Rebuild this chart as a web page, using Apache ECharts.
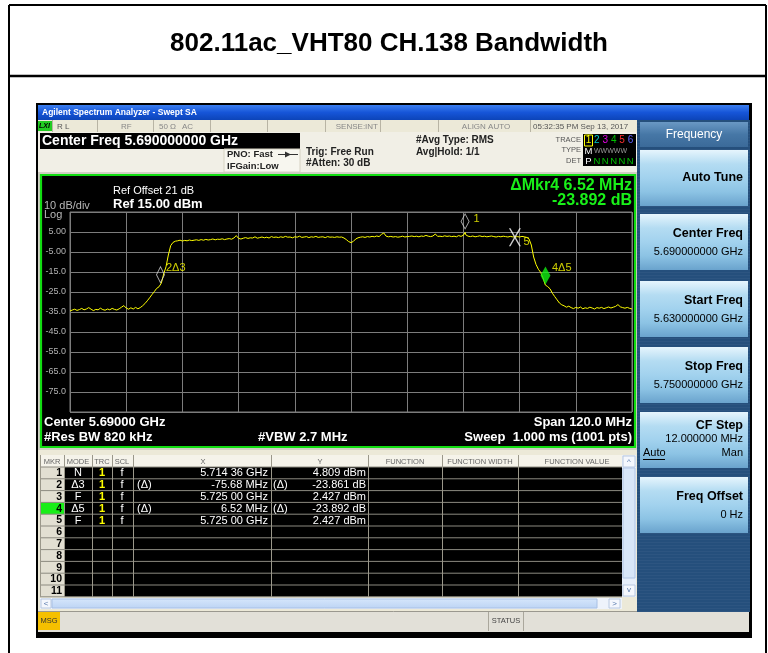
<!DOCTYPE html>
<html><head><meta charset="utf-8">
<script src="https://cdn.jsdelivr.net/npm/echarts@6/dist/echarts.min.js"></script>
<style>html,body{margin:0;padding:0;background:#fff}#c{width:768px;height:653px}</style>
</head><body><div id="c"></div>
<script>
// ---------------- data ----------------
const chartTitle = '802.11ac_VHT80 CH.138 Bandwidth';
const startFreqGHz = 5.63;          // x axis: offset in MHz from start
const spanMHz = 120, freqDivMHz = 12;
const yMin = -85, yMax = 15, yDiv = 10;
const yTickValues = [5, -5, -15, -25, -35, -45, -55, -65, -75];
const yTickLabels = ['5.00', '-5.00', '-15.0', '-25.0', '-35.0', '-45.0', '-55.0', '-65.0', '-75.0'];
const displayLineDbm = -21.19;
const displayLineLabel = '-21.19 dBm';
// trace: [offset MHz from 5.630 GHz, level dBm]
const trace = [
[0,-34.5],[0.5,-34.0],[1,-33.6],[1.5,-34.2],[2,-33.8],[2.5,-33.2],[3,-33.9],[3.5,-33.5],[4,-32.8],[4.5,-33.6],
[5,-34.3],[5.5,-33.7],[6,-33.9],[6.5,-33.1],[7,-33.8],[7.5,-34.1],[8,-33.5],[8.5,-33.9],[9,-33.2],[9.5,-33.7],
[10,-34.0],[10.5,-33.4],[11,-32.6],[11.5,-31.8],[12,-33.0],[12.5,-33.6],[13,-32.9],[13.5,-33.5],[14,-32.7],[14.5,-33.4],
[15,-32.8],[15.5,-31.9],[16,-30.8],[16.5,-29.4],[17,-27.9],[17.5,-26.3],[18,-24.8],[18.5,-23.2],[19,-22.4],[19.5,-20.6],
[20,-16.0],[20.5,-12.4],[21,-6.5],[21.5,-1.8],[22,-0.2],[22.5,0.4],[23,0.6],[23.5,0.9],[24,0.5],[24.5,0.8],
[25,0.6],[25.5,1.0],[26,0.7],[26.5,0.9],[27,1.1],[27.5,0.8],[28,1.2],[28.5,0.9],[29,1.3],[29.5,1.0],
[30,1.2],[30.5,1.5],[31,1.1],[31.5,1.4],[32,1.3],[32.5,1.6],[33,1.2],[33.5,1.5],[34,1.7],[34.5,1.4],
[35,2.0],[35.5,3.2],[36,1.8],[36.5,1.5],[37,1.9],[37.5,2.2],[38,1.8],[38.5,2.1],[39,2.0],[39.5,2.6],
[40,1.9],[40.5,2.2],[41,2.5],[41.5,2.1],[42,2.4],[42.5,2.0],[43,2.7],[43.5,2.3],[44,2.5],[44.5,2.2],
[45,2.6],[45.5,2.3],[46,2.8],[46.5,2.4],[47,2.5],[47.5,2.1],[48,2.6],[48.5,2.4],[49,2.9],[49.5,2.3],
[50,2.5],[50.5,2.7],[51,2.2],[51.5,2.6],[52,2.4],[52.5,2.8],[53,2.3],[53.5,2.5],[54,2.6],[54.5,2.2],
[55,2.7],[55.5,2.4],[56,2.5],[56.5,2.3],[57,2.6],[57.5,2.4],[58,2.5],[58.5,2.0],[59,1.2],[59.5,0.2],
[60,-0.3],[60.5,0.3],[61,1.5],[61.5,2.1],[62,2.4],[62.5,2.6],[63,2.3],[63.5,2.7],[64,2.5],[64.5,2.8],
[65,2.6],[65.5,3.0],[66,2.7],[66.5,3.8],[67,4.5],[67.5,2.9],[68,2.6],[68.5,2.8],[69,2.5],[69.5,2.7],
[70,2.4],[70.5,2.6],[71,2.9],[71.5,2.5],[72,2.7],[72.5,2.8],[73,3.0],[73.5,2.7],[74,2.9],[74.5,2.6],
[75,3.0],[75.5,2.8],[76,3.3],[76.5,2.9],[77,2.7],[77.5,3.0],[78,4.0],[78.5,2.8],[79,2.9],[79.5,2.7],
[80,3.1],[80.5,2.8],[81,3.0],[81.5,2.7],[82,2.9],[82.5,2.6],[83,3.2],[83.5,2.8],[84,3.4],[84.36,4.809],[84.5,3.6],
[85,2.9],[85.5,2.7],[86,3.0],[86.5,2.6],[87,2.8],[87.5,3.1],[88,2.7],[88.5,2.9],[89,2.6],[89.5,2.8],
[90,3.0],[90.5,2.7],[91,2.5],[91.5,2.8],[92,2.6],[92.5,2.9],[93,2.7],[93.5,2.5],[94,2.8],[94.5,2.6],
[95,2.427],[95.5,2.7],[96,2.5],[96.5,2.8],[97,2.6],[97.5,2.3],[98,1.6],[98.5,-1.5],[99,-7.5],[99.5,-11.2],
[100,-13.6],[100.5,-15.2],[101,-18.0],[101.5,-21.5],[102,-22.3],[102.5,-23.4],[103,-25.6],[103.5,-27.3],[104,-28.9],[104.5,-30.5],
[105,-31.4],[105.5,-31.9],[106,-32.6],[106.5,-32.1],[107,-32.8],[107.5,-33.3],[108,-32.7],[108.5,-33.1],[109,-32.5],[109.5,-33.4],
[110,-32.9],[110.5,-33.2],[111,-32.6],[111.5,-33.0],[112,-33.5],[112.5,-32.8],[113,-33.1],[113.5,-32.7],[114,-33.3],[114.5,-32.9],
[115,-32.5],[115.5,-33.0],[116,-32.6],[116.5,-32.2],[117,-31.3],[117.5,-32.4],[118,-32.8],[118.5,-33.1],[119,-32.7],[119.5,-33.2],
[120,-33.5]
];
// markers (absolute frequency in GHz, level in dBm)
const markerLabels = ['1', '2\u03943', '3', '4\u03945', '5'];
const markerFreqGHz = [5.71436, 5.64932, 5.72500, 5.73152, 5.72500];
const markerLevelDbm = [4.809, -21.434, 2.427, -21.465, 2.427];
// marker table
const tableMkr = ['1','2','3','4','5','6','7','8','9','10','11'];
const tableMode = ['N','\u03943','F','\u03945','F'];
const tableTrc = ['1','1','1','1','1'];
const tableScl = ['f','f','f','f','f'];
const tableXRef = ['','(\u0394)','','(\u0394)',''];
const tableX = ['5.714 36 GHz','-75.68 MHz','5.725 00 GHz','6.52 MHz','5.725 00 GHz'];
const tableYRef = ['','(\u0394)','','(\u0394)',''];
const tableY = ['4.809 dBm','-23.861 dB','2.427 dBm','-23.892 dB','2.427 dBm'];
const tableHeaders = ['MKR','MODE','TRC','SCL','X','Y','FUNCTION','FUNCTION WIDTH','FUNCTION VALUE'];
// soft keys
const softkeyTitles = ['Auto Tune','Center Freq','Start Freq','Stop Freq','CF Step','Freq Offset'];
const softkeyValues = ['','5.690000000 GHz','5.630000000 GHz','5.750000000 GHz','12.000000 MHz','0 Hz'];

// ---------------- drawing helpers ----------------
const FF = '"Liberation Sans", Arial, Helvetica, sans-serif';
const el = [];
let zc = 1;
function rect(x, y, w, h, fill, stroke, lw) {
  el.push({type:'rect', silent:true, z:zc++, shape:{x:x, y:y, width:w, height:h},
    style:{fill:fill, stroke:stroke || null, lineWidth:lw || 0}});
}
function line(x1, y1, x2, y2, c, w) {
  el.push({type:'line', silent:true, z:zc++, shape:{x1:x1, y1:y1, x2:x2, y2:y2},
    style:{stroke:c, lineWidth:w || 1}});
}
function text(x, y, s, size, color, opt) {
  opt = opt || {};
  const a = opt.align || 'left';
  el.push({type:'text', silent:true, z:zc++, x:x, y:y,
    style:{text:s, fill:color, font:(opt.italic ? 'italic ' : '') + (opt.bold ? 'bold ' : '') + size + 'px ' + FF,
      textAlign:a, align:a, textVerticalAlign:'middle', verticalAlign:'middle'}});
}
function vgrad(stops) {
  return {type:'linear', x:0, y:0, x2:0, y2:1, colorStops:stops.map((c, i) => ({offset:i / (stops.length - 1), color:c}))};
}

// ---------------- page frame + title ----------------
line(9, 5, 766, 5, '#000', 2);
line(9, 5, 9, 653, '#000', 2);
line(766, 5, 766, 653, '#000', 2);
line(9, 76, 766, 76, '#000', 2.5);
text(389, 44, chartTitle, 26, '#000', {bold:true, align:'center'});

// ---------------- analyzer window ----------------
rect(36, 103, 716, 535, '#000');
rect(38, 105, 711, 15, vgrad(['#3c7ff0', '#1655d8', '#0c44b8']));
text(42, 112.5, 'Agilent Spectrum Analyzer - Swept SA', 8.5, '#fff', {bold:true});
// status row
rect(38, 120, 599, 12, '#ece9d8');
[52, 97, 153, 210, 267, 325, 380, 438, 530].forEach(x => line(x + 0.5, 120, x + 0.5, 132, '#b8b4a4', 1));
rect(38, 121, 14, 10, '#22cc22');
text(39, 126.5, 'LXI', 7, '#000', {bold:true, italic:true});
text(57, 126.5, 'R L', 8, '#555');
text(121, 126.5, 'RF', 8, '#888');
text(159, 126.5, '50 \u03a9', 8, '#888');
text(182, 126.5, 'AC', 8, '#888');
text(378, 126.5, 'SENSE:INT', 8, '#888', {align:'right'});
text(486, 126.5, 'ALIGN AUTO', 8, '#888', {align:'center'});
text(533, 126.5, '05:32:35 PM Sep 13, 2017', 8, '#555');
// info area
rect(38, 132, 599, 41, '#f1efe6');
rect(40, 133, 260, 16, '#000');
text(42, 141.5, 'Center Freq 5.690000000 GHz', 14, '#fff', {bold:true});
rect(224, 149, 76, 23, '#f7f6ef', '#d6d2c2', 1);
text(227, 154, 'PNO: Fast', 9.5, '#222', {bold:true});
line(278, 154.5, 298, 154.5, '#333', 1);
el.push({type:'polygon', silent:true, z:zc++, shape:{points:[[285, 151.5], [291, 154.5], [285, 157.5]]}, style:{fill:'#333'}});
text(227, 166, 'IFGain:Low', 9.5, '#222', {bold:true});
text(306, 152, 'Trig: Free Run', 10, '#222', {bold:true});
text(306, 163.5, '#Atten: 30 dB', 10, '#222', {bold:true});
text(416, 140, '#Avg Type: RMS', 10, '#222', {bold:true});
text(416, 152, 'Avg|Hold: 1/1', 10, '#222', {bold:true});
text(581, 139.5, 'TRACE', 7.5, '#555', {align:'right'});
text(581, 150, 'TYPE', 7.5, '#555', {align:'right'});
text(581, 160.5, 'DET', 7.5, '#555', {align:'right'});
rect(583, 134, 53, 32, '#000');
rect(584.5, 135, 8, 11, null, '#ffff00', 1);
const trColors = ['#ffff00', '#00c8c8', '#e000e0', '#00c000', '#ff3030', '#6060ff'];
trColors.forEach((c, i) => text(588.5 + i * 8.4, 140.5, String(i + 1), 10, c, {align:'center'}));
text(588.5, 151, 'M', 9.5, '#fff', {align:'center'});
text(594, 151, 'WWWWW', 7, '#999');
text(588.5, 161, 'P', 9.5, '#fff', {align:'center'});
for (let i = 0; i < 5; i++) text(597 + i * 8.3, 161, 'N', 9.5, '#00c000', {align:'center'});

// graph area
rect(38, 172, 599, 278, '#d0cec4');
rect(41, 175, 594, 272, '#000', '#11dd11', 2.2);
text(113, 191, 'Ref Offset 21 dB', 11, '#fff');
text(113, 204, 'Ref 15.00 dBm', 13, '#fff', {bold:true});
text(44, 206, '10 dB/div', 11, '#b8b8b8');
text(44, 215, 'Log', 11, '#b8b8b8');
text(632, 186, '\u0394Mkr4 6.52 MHz', 16, '#19f019', {bold:true, align:'right'});
text(632, 201, '-23.892 dB', 16, '#19f019', {bold:true, align:'right'});
text(44, 422.5, 'Center 5.69000 GHz', 13, '#fff', {bold:true});
text(44, 437.5, '#Res BW 820 kHz', 13, '#fff', {bold:true});
text(258, 437.5, '#VBW 2.7 MHz', 13, '#fff', {bold:true});
text(632, 422.5, 'Span 120.0 MHz', 13, '#fff', {bold:true, align:'right'});
text(632, 437.5, 'Sweep  1.000 ms (1001 pts)', 13, '#fff', {bold:true, align:'right'});

// ---------------- marker table ----------------
rect(38, 450, 599, 162, '#ece9d8');
rect(40, 455, 582, 12, '#f5f3ea');
const colX = [40, 64, 92, 112, 133, 271, 368, 442, 518, 622];
const hdrCx = [52, 78, 102, 122, 203, 320, 405, 480, 577];
tableHeaders.forEach((h, i) => text(hdrCx[i], 461.5, h, 7.5, '#666', {align:'center'}));
const rowTop = 467, rowH = 11.8;
rect(64, rowTop, 558, rowH * 11, '#000');
rect(40, rowTop, 24, rowH * 11, '#e2dfd2');
rect(40, rowTop + 3 * rowH, 24, rowH, '#18ee18');
for (let i = 0; i <= 11; i++) line(40, rowTop + i * rowH, 622, rowTop + i * rowH, '#8c8a80', 1);
colX.forEach(x => line(x + 0.5, 455, x + 0.5, rowTop + 11 * rowH, '#9a978a', 1));
tableMkr.forEach((m, i) => text(62, rowTop + i * rowH + rowH / 2 + 0.5, m, 10.5, '#000', {bold:true, align:'right'}));
tableMode.forEach((m, i) => {
  const cy = rowTop + i * rowH + rowH / 2 + 0.5;
  text(78, cy, m, 11, '#fff', {align:'center'});
  text(102, cy, tableTrc[i], 11, '#ffff00', {bold:true, align:'center'});
  text(122, cy, tableScl[i], 11, '#fff', {align:'center'});
  if (tableXRef[i]) text(137, cy, tableXRef[i], 11, '#fff');
  text(268, cy, tableX[i], 11, '#fff', {align:'right'});
  if (tableYRef[i]) text(273, cy, tableYRef[i], 11, '#fff');
  text(366, cy, tableY[i], 11, '#fff', {align:'right'});
});
// vertical scrollbar
rect(622, 455, 14, 142, '#e6eefa');
rect(623, 456, 12, 11, '#f4f7fd', '#b8c8e0', 1);
text(629, 462, '^', 8, '#5577aa', {align:'center'});
rect(623, 468, 12, 110, '#d8e6f8', '#b0c4e4', 1);
rect(623, 585, 12, 11, '#f4f7fd', '#b8c8e0', 1);
text(629, 590, 'v', 8, '#5577aa', {align:'center'});
// horizontal scrollbar
rect(40, 598, 582, 11, '#eef3fb');
rect(41, 599, 10, 9, '#f4f7fd', '#b8c8e0', 1);
text(46, 603.5, '<', 8, '#5577aa', {align:'center'});
rect(52, 599, 545, 9, vgrad(['#d6e6fb', '#bcd4f4']), '#a8c0e4', 1);
rect(609, 599, 11, 9, '#f4f7fd', '#b8c8e0', 1);
text(614.5, 603.5, '>', 8, '#5577aa', {align:'center'});

// bottom status bar
rect(38, 611, 711, 21, '#e2e0d8');
line(38, 611.5, 749, 611.5, '#9a988f', 1);
rect(38, 612, 22, 18, '#f5c000');
text(49, 621, 'MSG', 7.5, '#333', {align:'center'});
line(488.5, 612, 488.5, 631, '#aaa79c', 1);
line(523.5, 612, 523.5, 631, '#aaa79c', 1);
text(506, 621, 'STATUS', 7.5, '#444', {align:'center'});

// ---------------- soft key panel ----------------
rect(637, 120, 113, 492, '#254f7c');
for (let y = 122; y < 612; y += 3) line(637, y + 0.5, 750, y + 0.5, 'rgba(255,255,255,0.04)', 1);
rect(640, 122, 108, 25, vgrad(['#6a98c4', '#4677a6', '#3b6a99']));
text(694, 135, 'Frequency', 12, '#fff', {align:'center'});
const keyTop = [150, 214, 281, 347, 412, 477];
softkeyTitles.forEach((t, i) => {
  const y = keyTop[i];
  rect(640, y, 108, 56, vgrad(['#e6f5fd', '#b4dcf2', '#a2d2ee', '#8cc3e4', '#6aa3cd']));
  if (i === 0) {
    text(743, y + 28, t, 12.5, '#000', {bold:true, align:'right'});
  } else if (i === 4) {
    text(743, y + 14, t, 12.5, '#000', {bold:true, align:'right'});
    text(743, y + 27, softkeyValues[i], 11, '#000', {align:'right'});
    text(643, y + 41, 'Auto', 11, '#000');
    line(643, y + 47.5, 665, y + 47.5, '#000', 1);
    text(743, y + 41, 'Man', 11, '#000', {align:'right'});
  } else {
    text(743, y + 20, t, 12.5, '#000', {bold:true, align:'right'});
    text(743, y + 38, softkeyValues[i], 11, '#000', {align:'right'});
  }
});

// ---------------- chart ----------------
const mOff = markerFreqGHz.map(f => Math.round((f - startFreqGHz) * 100000) / 100);
const hollowDiamond = {color:'rgba(0,0,0,0)', borderColor:'#d8d8d8', borderWidth:1};
const markerSymbols = [
  {value:[mOff[0], markerLevelDbm[0]], symbol:'diamond', symbolSize:[8, 15], symbolOffset:[0, -11], itemStyle:hollowDiamond},
  {value:[mOff[1], markerLevelDbm[1]], symbol:'diamond', symbolSize:[8, 16], symbolOffset:[0, -10], itemStyle:hollowDiamond},
  {value:[mOff[3], markerLevelDbm[3]], symbol:'diamond', symbolSize:[10, 18], symbolOffset:[0, -9.5], itemStyle:{color:'#11ee11'}},
  {value:[mOff[4], markerLevelDbm[4]], symbol:'path://M0,0L1.6,0L12,18L10.4,18ZM10.4,0L12,0L1.6,18L0,18Z', symbolSize:[12, 18], itemStyle:{color:'#ffffff'}}
];
const markerTexts = [
  {value:[mOff[0], markerLevelDbm[0]], name:markerLabels[0], label:{offset:[8, -13]}},
  {value:[mOff[1], markerLevelDbm[1]], name:markerLabels[1], label:{offset:[5, -17]}},
  {value:[mOff[3], markerLevelDbm[3]], name:markerLabels[3], label:{offset:[6, -17]}},
  {value:[mOff[4], markerLevelDbm[4]], name:markerLabels[4], label:{offset:[8, 5]}}
];

const chart = echarts.init(document.getElementById('c'), null, {renderer:'canvas'});
chart.setOption({
  backgroundColor:'#fff',
  animation:false,
  graphic:{elements:el},
  grid:{left:70, top:212, width:562, height:200, show:true, borderColor:'#7c7c7c', borderWidth:1,
    backgroundColor:'transparent', zlevel:1},
  xAxis:{type:'value', min:0, max:spanMHz, interval:freqDivMHz, zlevel:1,
    axisLine:{show:false}, axisTick:{show:false}, axisLabel:{show:false},
    splitLine:{show:true, lineStyle:{color:'#7c7c7c', width:1}}},
  yAxis:{type:'value', min:yMin, max:yMax, interval:yDiv, zlevel:1,
    axisLine:{show:false}, axisTick:{show:false},
    axisLabel:{color:'#b4b4b4', fontSize:9, fontFamily:FF, margin:4,
      formatter:v => { const i = yTickValues.indexOf(Math.round(v)); return i < 0 ? '' : yTickLabels[i]; }},
    splitLine:{show:true, lineStyle:{color:'#7c7c7c', width:1}}},
  series:[
    {type:'line', name:'Trace 1', zlevel:1, z:3, data:trace, symbol:'none', showSymbol:false,
      lineStyle:{color:'#ffff00', width:1}, clip:true,
      markLine:{silent:true, symbol:'none', animation:false,
        lineStyle:{color:'#00c000', width:1, type:'solid'},
        label:{show:true, position:'insideEndTop', formatter:displayLineLabel, color:'#00c000', fontSize:7, fontFamily:FF, distance:[2, 1]},
        data:[{yAxis:displayLineDbm}]}},
    {type:'scatter', name:'markers', zlevel:1, z:4, data:markerSymbols, clip:false},
    {type:'scatter', name:'marker labels', zlevel:1, z:5, data:markerTexts, symbolSize:1, clip:false,
      itemStyle:{color:'rgba(0,0,0,0)'},
      label:{show:true, position:'right', distance:0, formatter:p => p.name, color:'#ffff00', fontSize:11, fontFamily:FF}}
  ]
});
</script>
</body></html>
